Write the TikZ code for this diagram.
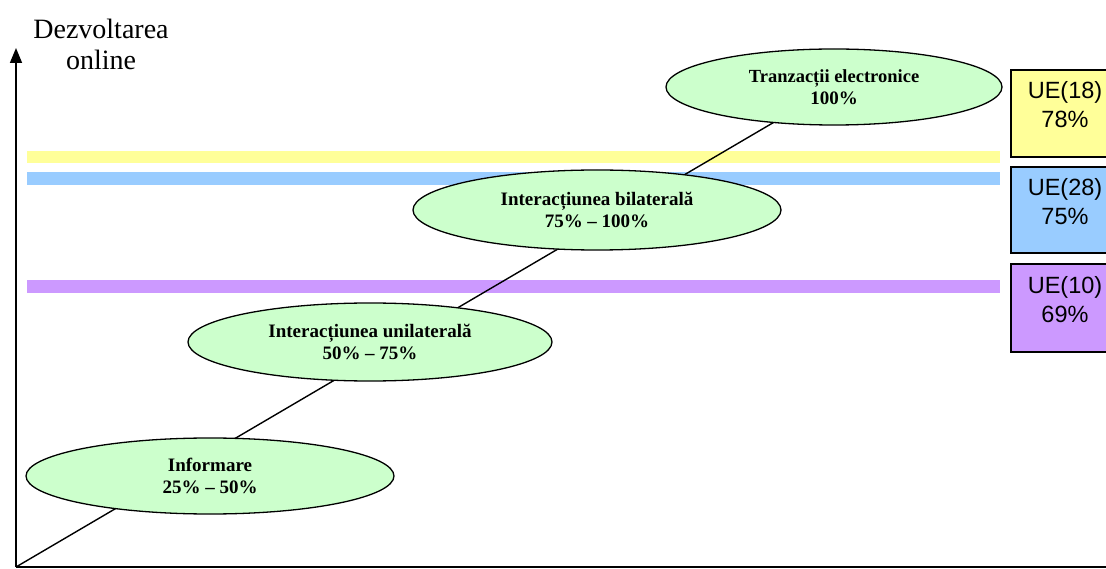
\documentclass[tikz,border=0pt]{standalone}
\usepackage{fontspec}
\setmainfont{Liberation Serif}
\newfontfamily\arialfont{Liberation Sans}
\usetikzlibrary{shapes.geometric,arrows.meta}
\pgfdeclarelayer{background}
\pgfsetlayers{background,main}
\definecolor{barYellow}{HTML}{FFFF99}
\definecolor{barBlue}{HTML}{99CCFF}
\definecolor{barPurple}{HTML}{CC99FF}
\definecolor{stageGreen}{HTML}{CCFFCC}
\tikzset{
	stage/.style={ellipse, draw=black, line width=1.3pt, fill=stageGreen, inner sep=0pt,
		align=center, font=\fontsize{19}{22}\selectfont\bfseries},
	uebox/.style={rectangle, draw=black, line width=1.5pt, minimum width=110pt, inner sep=0pt},
	uetext/.style={align=center, font=\arialfont\fontsize{23.5}{29}\selectfont},
	axis/.style={line width=1.6pt}
}

\begin{document}
\begin{tikzpicture}[x=1pt,y=-1pt]
		%%%%% START %%%%%
		\useasboundingbox (0,0) rectangle (1106,569);
		\clip (0,0) rectangle (1106,569);
		
		% axes
		\coordinate (origin) at (16,567);
		\coordinate (ytip) at (16,48);
		\coordinate (xend) at (1106,567);
		\draw[axis, -{Triangle[length=15pt,width=12pt]}] (origin) -- (ytip);
		\draw[axis] (origin) -- (xend);
		\node[align=center, font=\fontsize{28}{31}\selectfont] (ylabel) at (101,44) {Dezvoltarea\\online};
		
		% stages
		\node[stage, minimum width=336pt, minimum height=76pt] (tranz) at (834,87) {\fontsize{18.5}{22}\selectfont Tranzacții electronice\\100\%};
		\node[stage, minimum width=368pt, minimum height=80pt] (bilat) at (597,210) {Interacțiunea bilaterală\\75\% -- 100\%};
		\node[stage, minimum width=364pt, minimum height=78pt] (unilat) at (370,342) {Interacțiunea unilaterală\\50\% -- 75\%};
		\node[stage, minimum width=368pt, minimum height=76pt] (inform) at (210,476) {Informare\\25\% -- 50\%};
		
		% levels and trend
		\begin{pgfonlayer}{background}
			\fill[barYellow] (27,151) rectangle (1000,163);
			\fill[barBlue] (27,172) rectangle (1000,185);
			\fill[barPurple] (27,280) rectangle (1000,293);
			\draw[line width=1.4pt] (origin) -- (tranz.center);
		\end{pgfonlayer}
		
		% EU groups
		\node[uebox, fill=barYellow, minimum height=87pt] (ue18) at (1066,113.5) {};
		\node[uetext] (ue18t) at (1065,105) {UE(18)\\78\%};
		\node[uebox, fill=barBlue, minimum height=86pt] (ue28) at (1066,210) {};
		\node[uetext] (ue28t) at (1065,202) {UE(28)\\75\%};
		\node[uebox, fill=barPurple, minimum height=88pt] (ue10) at (1066,308) {};
		\node[uetext] (ue10t) at (1065,300) {UE(10)\\69\%};
		
		%%%%% END %%%%%
	\end{tikzpicture}
\end{document}
